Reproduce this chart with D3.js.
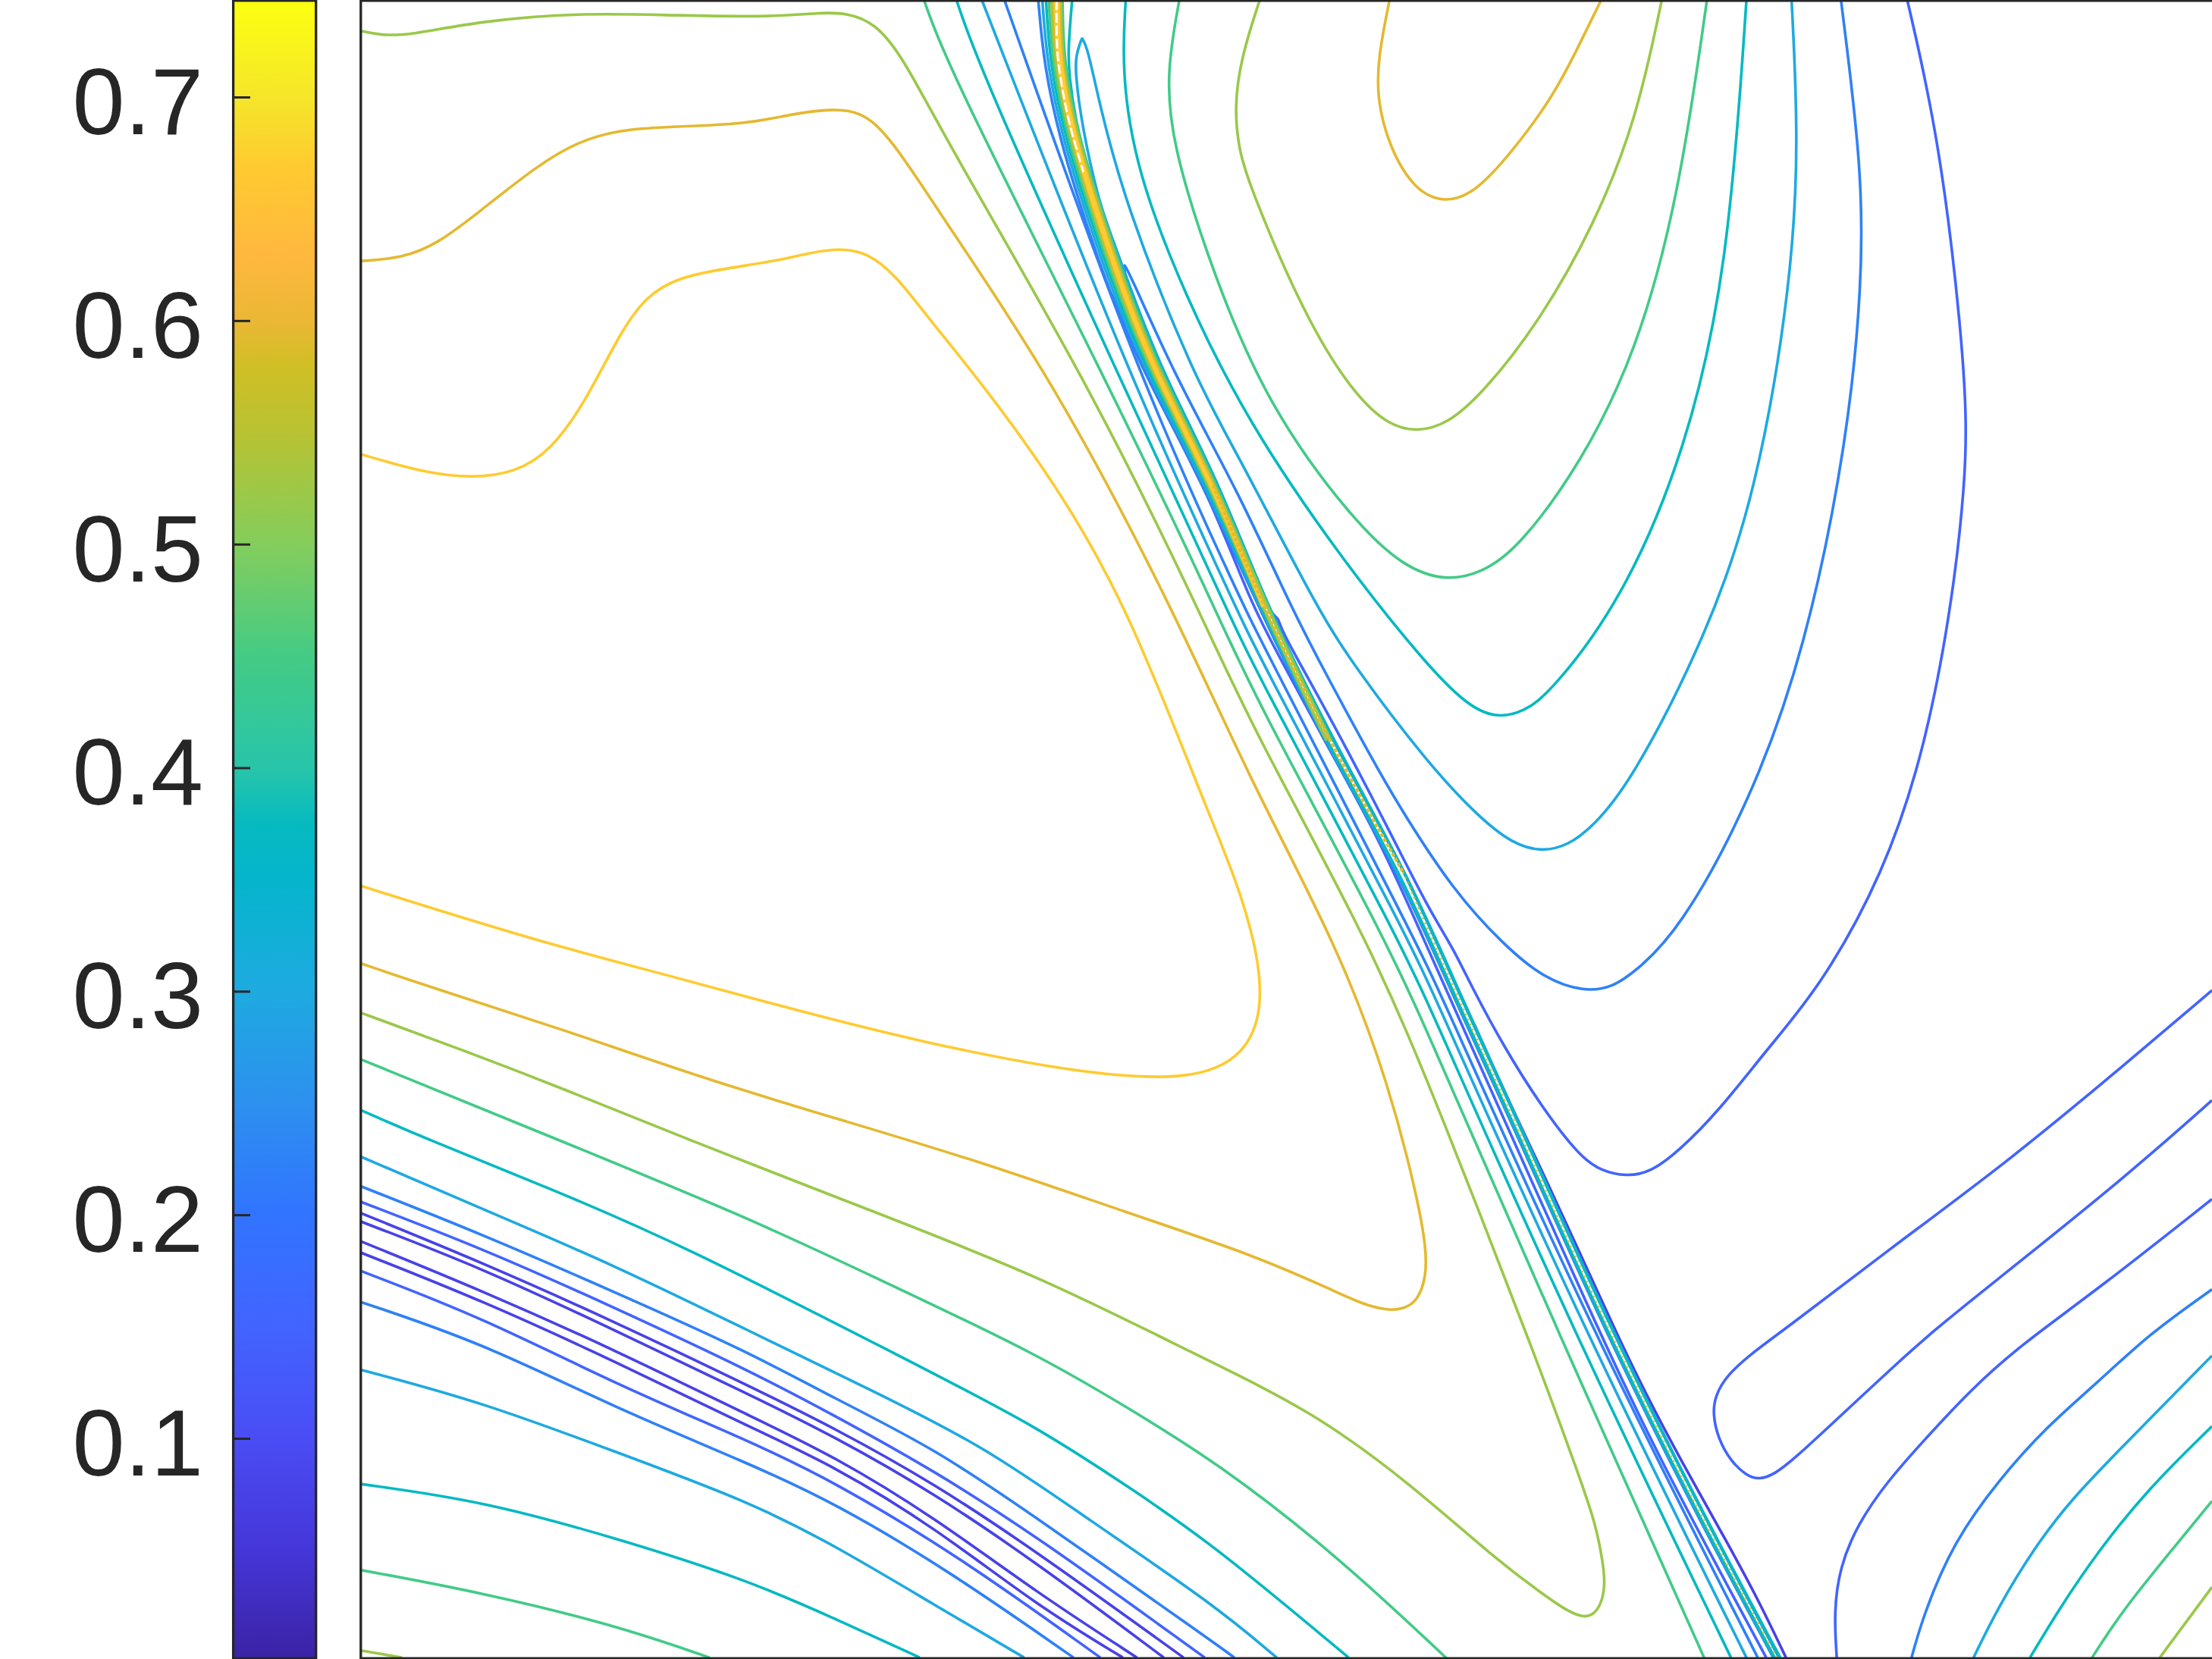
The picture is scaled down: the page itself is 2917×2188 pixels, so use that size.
<!DOCTYPE html>
<html lang="en">
<head>
<meta charset="utf-8">
<title>Contour map</title>
<script src="https://d3js.org/d3.v7.min.js"></script>
<style>
  html, body { margin: 0; padding: 0; background: #fff; }
  svg { display: block; }
  .cbar text { font-family: "Liberation Sans", Arial, sans-serif; font-size: 124px; fill: #262626; }
</style>
</head>
<body>
<svg id="chart" width="2917" height="2188"></svg>
<script>
// colour bar
const tickValues = [0.1, 0.2, 0.3, 0.4, 0.5, 0.6, 0.7];
const cmapValues = [0.0016, 0.05, 0.1, 0.15, 0.2, 0.25, 0.3, 0.35, 0.375, 0.4, 0.45, 0.5, 0.55, 0.58, 0.6, 0.63, 0.67, 0.7, 0.7434];
const cmapColors = ["#3b23a5", "#4536d8", "#4a4df4", "#4264ff", "#3174ff", "#2d90ee", "#1eaae0", "#05b5cc", "#06bac0", "#28c5aa",
  "#44cb85", "#84cd5c", "#b8c232", "#d0bf25", "#ebb735", "#ffb83e", "#fecb30", "#f5e62a", "#fcff10"];

// contour levels, lowest to highest
const L1 = 0.076, L2 = 0.150, L3 = 0.224, L4 = 0.298, L5 = 0.372, L6 = 0.447, L7 = 0.521, L8 = 0.595, L9 = 0.669;

// contour lines, [x, y] in plot units
const yellowLoop = [[256,322],[300,335],[335,339],[365,335],[390,320],[415,285],[440,235],[458,210],[480,197],[510,191],[550,185],[575,179],[595,176],[615,179],[635,195],[660,228],[694,269],[750,345],[799,430],[850,560],[877,625],[890,670],[894,700],[892,725],[881,746],[862,758],[840,763],[810,764],[750,758],[650,738],[560,715],[480,693],[380,667],[256,628]];
const orangeLoop = [[256,185],[285,183],[310,173],[340,150],[380,118],[410,100],[440,92],[470,90],[530,88],[560,81],[590,77],[610,79],[630,95],[672,160],[746,269],[831,430],[887,555],[949,672],[985,770],[1005,850],[1011,885],[1011,905],[1005,922],[995,928],[983,929],[965,924],[950,917],[890,890],[800,860],[700,825],[600,795],[500,765],[400,730],[300,698],[256,683]];
const orangeTop = [[985,0],[977,40],[976,70],[985,105],[1003,135],[1024,144],[1045,137],[1070,110],[1100,70],[1118,35],[1135,0]];
const limeLong = [[256,22],[270,25],[290,25],[340,15],[410,9],[480,11],[550,12],[580,9],[600,9],[620,16],[640,40],[672,102],[770,269],[849,430],[887,515],[973,672],[1021,788],[1091,968],[1120,1048],[1131,1080],[1136,1106],[1138,1123],[1135,1138],[1128,1146],[1120,1146],[1108,1140],[1095,1131],[1060,1105],[1000,1052],[930,1000],[849,961],[738,905],[617,858],[483,806],[400,772],[330,745],[256,718]];
const limeTop = [[893,0],[880,40],[875,75],[878,105],[885,130],[925,225],[960,280],[985,302],[1005,306],[1025,301],[1050,280],[1090,230],[1130,160],[1160,85],[1178,0]];
const limeCorner = [[256,1170],[285,1175]];
const limeRight = [[1531,1175],[1568,1125]];
const greenLeft = [[655,0],[672,48],[784,269],[861,430],[887,490],[986,672],[1021,753],[1103,941],[1208,1175]];
const greenLow = [[256,751],[391,806],[530,863],[617,904],[738,961],[806,1002],[860,1035],[945,1100],[1026,1176]];
const greenTop = [[836,0],[827,50],[830,100],[860,195],[900,290],[960,370],[995,402],[1025,412],[1050,406],[1075,390],[1120,330],[1160,250],[1190,140],[1210,0]];
const greenCorner = [[256,1113],[342,1129],[436,1152],[503,1175]];
const greenRight = [[1483,1175],[1505,1141],[1541,1097],[1568,1064]];
const tealLeft = [[678,0],[695,50],[794,269],[869,430],[887,470],[995,672],[1021,731],[1114,941],[1227,1175]];
const tealLow = [[256,787],[299,806],[389,842],[483,882],[645,965],[735,1011],[806,1058],[860,1095],[956,1175]];
const tealTop = [[798,0],[795,50],[805,120],[840,210],[885,300],[950,395],[1010,470],[1040,500],[1060,509],[1080,505],[1100,490],[1150,425],[1195,320],[1225,190],[1238,0]];
const tealCorner = [[256,1052],[342,1064],[436,1090],[530,1120],[591,1147],[652,1175]];
const tealRight = [[1439,1175],[1460,1140],[1487,1100],[1523,1055],[1568,1011]];
const cyanLeft = [[696,0],[801,269],[876,430],[887,455],[1002,672],[1021,716],[1122,941],[1238,1175]];
const cyanLow = [[256,820],[342,857],[436,897],[530,943],[617,985],[699,1026],[770,1076],[860,1137],[905,1175]];
const cyanCorner = [[256,971],[342,994],[436,1029],[530,1064],[591,1095],[663,1138],[726,1175]];
const cyanRight = [[1399,1175],[1416,1140],[1442,1097],[1469,1062],[1505,1025],[1568,961]];
const cyanHairpin = [[1262,1175],[1205,1069],[1140,938],[1084,812],[1033,700],[997,618],[945,525],[898,430],[865,344],[826,268],[804,212],[786,162],[779,143],[767,90],[762,50],[763,38],[767,27],[767,27],[771,34],[779,72],[797,143],[847,269],[878,323],[933,430],[959,471],[1012,541],[1048,579],[1072,598],[1093,604],[1112,599],[1129,586],[1156,555],[1210,450],[1245,350],[1270,200],[1275,100],[1270,0]];
const blueLeft = [[712,0],[807,269],[882,430],[887,441],[1006,672],[1021,704],[1127,941],[1246,1175]];
const blueLow = [[256,841],[342,875],[436,916],[530,958],[591,991],[663,1027],[735,1076],[860,1164],[875,1175]];
const blueCorner = [[256,923],[342,952],[436,998],[530,1037],[591,1065],[672,1113],[761,1175]];
const blueRight = [[1355,1175],[1364,1143],[1385,1093],[1416,1050],[1451,1011],[1487,980],[1523,946],[1568,914]];
const blueHairpin = [[1261,1175],[1205,1069],[1140,938],[1084,812],[1032,700],[997,618],[944,525],[898,430],[865,344],[826,268],[806,220],[797,195],[797,188],[797,188],[800,192],[834,269],[878,349],[915,430],[941,480],[977,546],[994,575],[1030,631],[1066,670],[1095,694],[1123,703],[1143,700],[1160,688],[1190,660],[1240,570],[1280,460],[1310,310],[1320,200],[1320,120],[1305,0]];
const indigoHairpin = [[1252,1175],[1174,1030],[1132,941],[1024,699],[1012,672],[977,593],[941,529],[905,462],[887,428],[860,358],[824,287],[797,233],[787,207],[787,207],[802,236],[815,268],[850,340],[880,400],[896,428],[904,437],[906,439],[906,439],[910,450],[932,489],[959,539],[987,593],[1012,643],[1030,672],[1043,699],[1066,742],[1093,785],[1120,820],[1135,830],[1153,834],[1170,831],[1190,816],[1218,788],[1254,742],[1290,700],[1335,620],[1365,530],[1385,420],[1393,340],[1394,300],[1391,240],[1375,100],[1352,0]];
const indigoUpperA = [[256,852],[342,885],[436,927],[530,971],[591,1003],[663,1043],[735,1089],[854,1175]];
const indigoUpperB = [[256,901],[342,934],[436,981],[530,1021],[591,1050],[681,1104],[780,1175]];
const indigoBlob = [[1568,702],[1500,760],[1420,826],[1340,885],[1267,941],[1242,959],[1224,975],[1216,989],[1214,1002],[1218,1020],[1227,1036],[1238,1046],[1247,1049],[1258,1045],[1272,1034],[1299,1009],[1344,967],[1371,943],[1407,914],[1500,840],[1568,780]];
const indigoRight = [[1302,1175],[1300,1143],[1304,1111],[1317,1080],[1338,1050],[1362,1023],[1398,984],[1433,953],[1487,914],[1568,850]];
const darkRidge = [[1266,1175],[1245,1131],[1218,1082],[1192,1036],[1166,987],[1144,941],[1129,908],[1111,869],[1093,830],[1075,792],[1057,753],[1045,726]];
const darkA = [[256,860],[342,895],[436,937],[530,982],[591,1012],[663,1052],[735,1100],[839,1175]];
const darkB = [[256,866],[342,899],[436,943],[530,988],[591,1018],[663,1059],[735,1108],[825,1175]];
const darkC = [[256,880],[342,915],[436,957],[530,1003],[591,1032],[663,1076],[735,1129],[806,1175]];
const darkD = [[256,888],[342,922],[436,965],[530,1011],[591,1039],[663,1083],[735,1138],[796,1175]];

// the steep band, one y list and an x list for each line packed into it
const ridgeY = [0, 46, 100, 157, 212, 268, 344, 430, 525, 618, 700, 812, 938, 1069, 1175];
const ridgeBlue = [736, 740, 751.5, 769.4, 788.2, 812.6, 853.5, 891.8, 938, 991.5, 1027.3, 1078.9, 1135, 1199.9, 1257];
const ridgeCyan = [738.9, 742.2, 753.7, 771.6, 790.4, 814.4, 854.9, 892.6, 938.8, 992.2, 1027.9, 1079.5, 1135.6, 1200.5, 1257.5];
const ridgeTeal = [741.5, 744.2, 755.7, 773.6, 792.4, 816, 856.2, 893.4, 939.5, 992.8, 1028.4, 1080, 1136, 1201, 1258];
const ridgeGreen = [743.5, 745.8, 757.3, 775.2, 794, 817.2, 857.3, 894, 940];
const ridgeLime = [745.4, 747.2, 758.7, 776.6, 795.4, 818.4, 858.2, 894.5, 940.5];
const ridgeOrange = [747, 748.5, 760, 778, 797, 819.4, 859, 894.9];
const ridgeYellow = [748, 749, 760.6, 778.6, 797.6, 820, 859.5, 895.2];
const ridgeYellowB = [750, 751, 762.4, 780.2, 798.8, 821.2, 860.4, 895.8];
const ridgeOrangeB = [751, 751.7, 763.2, 781, 799.9, 822.3, 861.5, 896.5];
const ridgeLimeB = [752, 752.8, 764.3, 782.2, 801, 823.4, 862.5, 897.2, 943.2];
const ridgeGreenB = [753.2, 753.9, 765.4, 783.3, 802, 824.5, 863.5, 897.8, 943.8];
const tealSpur = [[760,0],[757,36],[758,54],[761.5,81],[772,125],[784,161],[803,212],[825.5,268],[864.5,344],[898.2,430],[944.3,525],[997,618],[1032.3,700],[1083.7,812],[1139.7,938],[1204.6,1069],[1261.6,1175]];

// centre of the band, used for the gaps and the dots where lines overlap
const ridgeGap = [[749,0],[749,30],[750,46],[756,80],[761.5,100],[768,122]];
const dotsMid = [[860,344],[895.5,430],[941.5,525],[994.5,618]];
const dotsLow = [[994.5,618],[1030,700],[1081.5,812],[1137.5,938],[1202.4,1069],[1259.5,1175]];

function ridge(xs) {
  return xs.map(function(x, i) { return [x, ridgeY[i]]; });
}

// lowest level first so the warm lines end up on top
const contourList = [
  [L1, darkRidge], [L1, darkA], [L1, darkB], [L1, darkC], [L1, darkD],
  [L2, indigoHairpin], [L2, indigoUpperA], [L2, indigoUpperB], [L2, indigoBlob], [L2, indigoRight],
  [L3, blueLeft], [L3, blueLow], [L3, blueCorner], [L3, blueRight], [L3, blueHairpin], [L3, ridge(ridgeBlue)],
  [L4, cyanLeft], [L4, cyanLow], [L4, cyanCorner], [L4, cyanRight], [L4, cyanHairpin], [L4, ridge(ridgeCyan)],
  [L5, tealLeft], [L5, tealLow], [L5, tealTop], [L5, tealCorner], [L5, tealRight], [L5, tealSpur], [L5, ridge(ridgeTeal)],
  [L6, greenLeft], [L6, greenLow], [L6, greenTop], [L6, greenCorner], [L6, greenRight], [L6, ridge(ridgeGreen)], [L6, ridge(ridgeGreenB)],
  [L7, limeLong], [L7, limeTop], [L7, limeCorner], [L7, limeRight], [L7, ridge(ridgeLime)], [L7, ridge(ridgeLimeB)],
  [L8, orangeLoop], [L8, orangeTop], [L8, ridge(ridgeOrange)], [L8, ridge(ridgeOrangeB)],
  [L9, yellowLoop], [L9, ridge(ridgeYellow)], [L9, ridge(ridgeYellowB)]
];

const svg = d3.select("#chart");
const ink = "#262626";

const x = d3.scaleLinear().domain([256, 1568]).range([476.2, 2917]);
const y = d3.scaleLinear().domain([0, 1176]).range([0, 2188]);
const cbarY = d3.scaleLinear().domain([0.7, 0.1]).range([128, 1897]);
const color = d3.scaleLinear().domain(cmapValues).range(cmapColors);

// colour bar
const grad = svg.append("defs").append("linearGradient")
    .attr("id", "cmap").attr("x1", 0).attr("x2", 0).attr("y1", 0).attr("y2", 1);
grad.selectAll("stop").data(cmapValues).enter().append("stop")
    .attr("offset", function(d) { return cbarY(d) / 2188; })
    .attr("stop-color", function(d, i) { return cmapColors[i]; });
// gradient runs top to bottom, stops have to be ascending
grad.selectAll("stop").sort(function(a, b) { return b - a; });

svg.append("rect")
    .attr("x", 307.6).attr("y", 0.8).attr("width", 109.1).attr("height", 2186.4)
    .attr("fill", "url(#cmap)").attr("stroke", ink).attr("stroke-width", 3.3);

const axis = d3.axisLeft(cbarY).tickValues(tickValues).tickFormat(d3.format(".1f"))
    .tickSizeInner(-21).tickSizeOuter(0).tickPadding(41);
const cbarAxis = svg.append("g").attr("class", "cbar").attr("transform", "translate(309,0)").call(axis);
cbarAxis.select(".domain").remove();
cbarAxis.selectAll("line").attr("stroke", ink).attr("stroke-width", 3);
cbarAxis.selectAll("text").attr("dy", "0.39em");

// contours
svg.select("defs").append("clipPath").attr("id", "plot")
    .append("rect").attr("x", 477).attr("y", 0).attr("width", 2440).attr("height", 2188);

const line = d3.line()
    .x(function(d) { return x(d[0]); })
    .y(function(d) { return y(d[1]); })
    .curve(d3.curveBasis);

const plot = svg.append("g").attr("clip-path", "url(#plot)").attr("fill", "none");

plot.selectAll("path.contour").data(contourList).enter().append("path")
    .attr("class", "contour")
    .attr("d", function(d) { return line(d[1]); })
    .attr("stroke", function(d) { return color(d[0]); })
    .attr("stroke-width", 3.6);

// white gap between the two yellow lines at the top of the band
plot.append("path").attr("d", line(ridgeGap))
    .attr("stroke", "#fff").attr("stroke-width", 2.8).attr("stroke-dasharray", "13 4");

// orange lines show through the teal as dots further down
plot.append("path").attr("d", line(dotsMid))
    .attr("stroke", color(L8)).attr("stroke-width", 4.2).attr("stroke-dasharray", "5 2.5");
plot.append("path").attr("d", line(dotsLow))
    .attr("stroke", color(L8)).attr("stroke-width", 2.6).attr("stroke-dasharray", "2.5 4.8");

// plot frame, the right side runs off the picture
svg.append("path")
    .attr("d", d3.line()([[2917, 0.8], [475.8, 0.8], [475.8, 2187.2], [2917, 2187.2]]))
    .attr("fill", "none").attr("stroke", ink).attr("stroke-width", 3.3);
</script>
</body>
</html>
